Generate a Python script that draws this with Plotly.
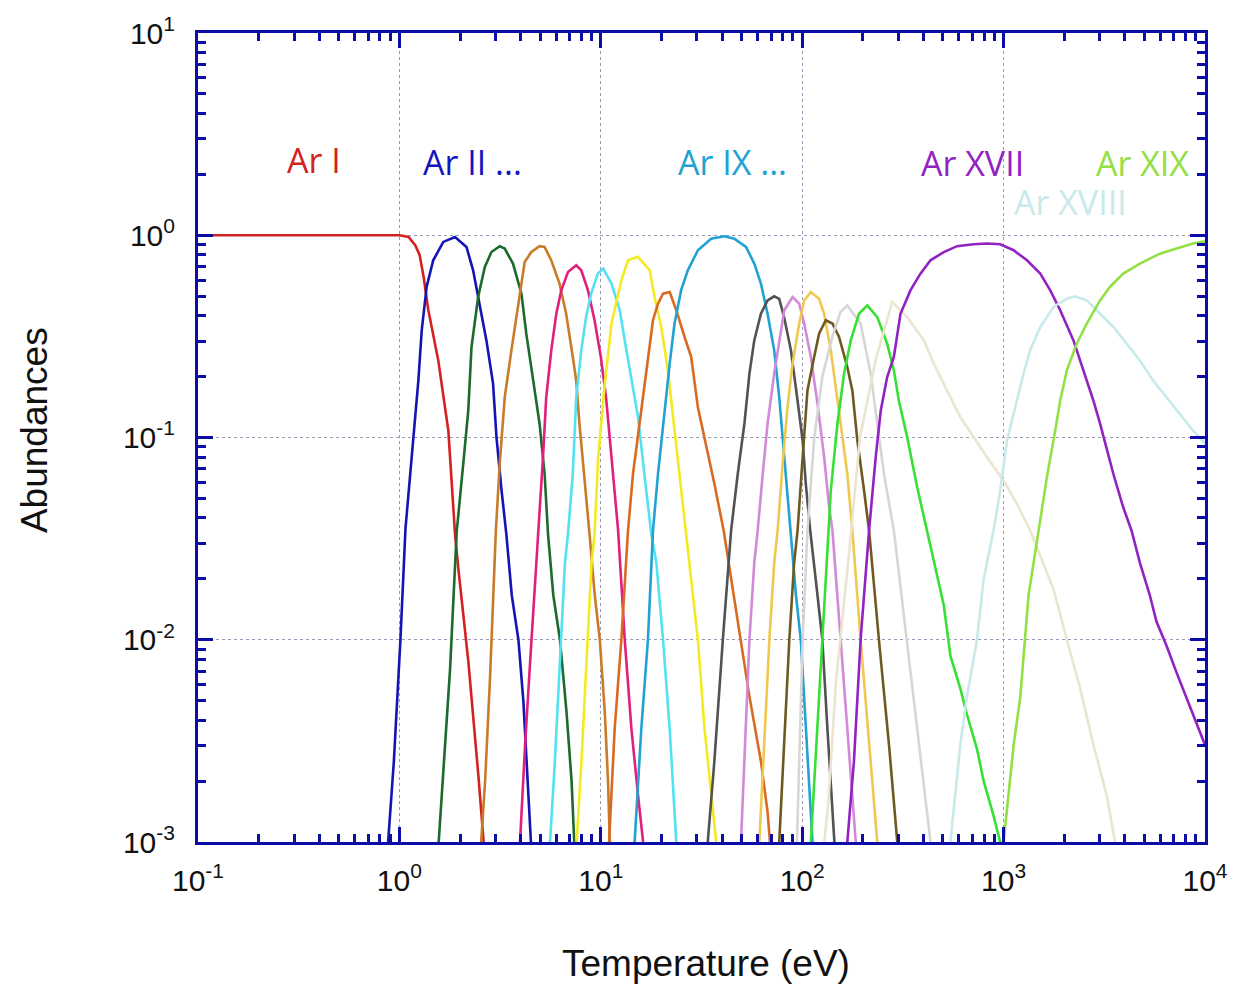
import plotly.graph_objects as go

# ---------------- data (temperature in eV, fractional abundance) ----------------
ions = ["Ar I", "Ar II", "Ar III", "Ar IV", "Ar V", "Ar VI", "Ar VII", "Ar VIII", "Ar IX", "Ar X",
        "Ar XI", "Ar XII", "Ar XIII", "Ar XIV", "Ar XV", "Ar XVI", "Ar XVII", "Ar XVIII", "Ar XIX"]

t01 = [0.1, 1.0, 1.11, 1.2, 1.26, 1.32, 1.39, 1.56, 1.75, 1.89, 1.97, 2.2, 2.47, 2.62]
a01 = [1.0, 1.0, 0.98, 0.89, 0.80, 0.62, 0.43, 0.24, 0.108, 0.033, 0.0216, 0.0078, 0.0021, 0.001]

t02 = [0.879, 0.938, 1.012, 1.072, 1.151, 1.242, 1.291, 1.365, 1.472, 1.652, 1.888, 2.153, 2.323, 2.506,
       2.704, 2.917, 3.034, 3.214, 3.396, 3.614, 3.899, 4.130, 4.285, 4.498]
a02 = [0.001, 0.00248, 0.01, 0.0355, 0.080, 0.191, 0.339, 0.555, 0.752, 0.927, 0.98, 0.875, 0.671, 0.459,
       0.302, 0.185, 0.1005, 0.055, 0.0333, 0.0166, 0.01, 0.0049, 0.00251, 0.001]

t03 = [1.567, 1.690, 1.786, 1.892, 1.928, 2.075, 2.198, 2.280, 2.460, 2.655, 2.864, 3.148, 3.334, 3.664,
       4.036, 4.266, 4.603, 4.966, 5.26, 5.47, 5.81, 6.27, 6.76, 7.16, 7.38]
a03 = [0.001, 0.00302, 0.00724, 0.024, 0.0347, 0.0741, 0.136, 0.280, 0.495, 0.697, 0.826, 0.883, 0.859, 0.724,
       0.514, 0.326, 0.199, 0.117, 0.066, 0.0333, 0.0166, 0.01, 0.00437, 0.002, 0.001]

t04 = [2.547, 2.667, 2.818, 2.931, 3.013, 3.148, 3.334, 3.597, 3.882, 4.188, 4.519, 4.966, 5.26, 5.675,
       6.237, 6.730, 7.261, 7.551, 7.834, 8.299, 8.790, 9.333, 9.886, 10.47, 10.86, 11.09]
a04 = [0.001, 0.00204, 0.00646, 0.0166, 0.0347, 0.0741, 0.158, 0.269, 0.442, 0.738, 0.826, 0.883, 0.875, 0.752,
       0.577, 0.409, 0.25, 0.191, 0.117, 0.0637, 0.0333, 0.0166, 0.01, 0.00437, 0.002, 0.001]

t05 = [3.972, 4.207, 4.457, 4.71, 4.898, 5.164, 5.358, 5.675, 6.012, 6.368, 6.871, 7.551, 7.998, 8.630,
       9.311, 10.0, 10.62, 11.30, 12.19, 13.15, 14.19, 15.31, 16.22]
a05 = [0.001, 0.00302, 0.00776, 0.02, 0.0347, 0.080, 0.158, 0.269, 0.409, 0.535, 0.658, 0.71, 0.671, 0.535,
       0.38, 0.251, 0.158, 0.080, 0.0347, 0.01, 0.00363, 0.0017, 0.001]

t06 = [5.598, 5.916, 6.266, 6.637, 6.871, 7.261, 7.551, 7.998, 8.453, 8.954, 9.661, 10.28, 11.30, 12.42,
       13.15, 14.19, 15.31, 16.52, 17.82, 18.88, 20.37, 21.98, 23.71]
a06 = [0.001, 0.00251, 0.00776, 0.024, 0.0333, 0.066, 0.158, 0.269, 0.394, 0.514, 0.646, 0.684, 0.577, 0.426,
       0.302, 0.199, 0.126, 0.0637, 0.0333, 0.024, 0.01, 0.00363, 0.001]

t07 = [7.586, 8.017, 8.492, 8.995, 9.311, 9.705, 10.47, 11.30, 12.65, 13.65, 15.31, 17.50, 18.49, 19.95,
       21.53, 23.23, 25.06, 26.55, 28.64, 30.34, 32.73, 35.32, 37.41]
a07 = [0.001, 0.00251, 0.00776, 0.024, 0.0333, 0.080, 0.185, 0.366, 0.598, 0.752, 0.782, 0.671, 0.495, 0.352,
       0.215, 0.108, 0.0547, 0.0333, 0.0166, 0.01, 0.00363, 0.0017, 0.001]

t08 = [10.99, 11.72, 12.65, 13.65, 14.45, 15.60, 16.83, 18.16, 19.23, 20.37, 21.98, 23.71, 26.06, 28.12,
       30.34, 32.73, 36.64, 40.74, 44.36, 49.66, 54.70, 62.37, 67.30, 69.18]
a08 = [0.001, 0.00363, 0.01, 0.0347, 0.066, 0.117, 0.207, 0.38, 0.459, 0.514, 0.524, 0.426, 0.314, 0.25,
       0.141, 0.1005, 0.059, 0.0347, 0.02, 0.01, 0.00525, 0.00251, 0.00141, 0.001]

t09 = [14.72, 15.89, 17.14, 18.16, 19.23, 20.75, 21.98, 23.23, 25.06, 27.04, 30.34, 35.32, 41.11, 46.03,
       52.60, 57.81, 62.37, 67.30, 72.61, 76.91, 81.47, 87.90, 93.11, 98.40, 104.2, 110.4, 112.5]
a09 = [0.001, 0.00363, 0.01, 0.0347, 0.066, 0.141, 0.232, 0.366, 0.535, 0.671, 0.843, 0.962, 0.989, 0.962,
       0.875, 0.724, 0.577, 0.409, 0.27, 0.158, 0.080, 0.0347, 0.0166, 0.01, 0.00363, 0.00141, 0.001]

t10 = [33.96, 36.64, 40.36, 44.36, 47.86, 51.64, 54.70, 57.81, 62.37, 67.30, 72.61, 76.91, 81.28, 87.90,
       94.84, 100.5, 104.2, 109.6, 119.1, 125.9, 133.4, 141.3, 144.5]
a10 = [0.001, 0.00251, 0.01, 0.0347, 0.066, 0.117, 0.207, 0.302, 0.409, 0.476, 0.499, 0.485, 0.394, 0.27,
       0.152, 0.0966, 0.059, 0.0347, 0.0166, 0.01, 0.00363, 0.00141, 0.001]

t11 = [49.66, 52.60, 54.70, 57.81, 60.12, 63.68, 67.30, 72.61, 76.91, 81.47, 89.54, 96.61, 102.3, 110.4,
       119.1, 128.5, 136.1, 141.3, 155.2, 167.9, 184.5]
a11 = [0.001, 0.00363, 0.01, 0.024, 0.0347, 0.066, 0.117, 0.207, 0.302, 0.426, 0.495, 0.459, 0.366, 0.25,
       0.147, 0.080, 0.0452, 0.0347, 0.01, 0.00363, 0.001]

t12 = [61.24, 64.86, 68.71, 72.61, 75.51, 79.98, 84.53, 89.54, 96.61, 102.3, 110.4, 121.3, 128.5, 138.7,
       149.6, 155.2, 167.5, 177.4, 195.0, 214.8, 236.0]
a12 = [0.001, 0.00302, 0.01, 0.024, 0.0347, 0.0741, 0.141, 0.232, 0.366, 0.476, 0.524, 0.485, 0.409, 0.269,
       0.158, 0.117, 0.066, 0.0347, 0.01, 0.00302, 0.001]

t13 = [76.91, 81.47, 86.30, 91.20, 94.84, 100.5, 106.2, 114.6, 121.3, 130.9, 141.3, 152.4, 167.5, 177.4,
       187.9, 202.8, 214.8, 240.4, 269.8, 296.5]
a13 = [0.001, 0.00302, 0.01, 0.024, 0.0347, 0.080, 0.171, 0.25, 0.326, 0.38, 0.366, 0.314, 0.223, 0.171,
       0.0966, 0.0547, 0.0347, 0.01, 0.00302, 0.001]

t14 = [94.19, 100.5, 106.2, 114.8, 125.9, 141.3, 154.9, 167.5, 195.0, 218.8, 236.0, 254.7, 285.1, 331.9,
       372.4, 433.5]
a14 = [0.001, 0.01, 0.0347, 0.1, 0.2, 0.316, 0.417, 0.45, 0.366, 0.207, 0.117, 0.066, 0.0347, 0.01,
       0.00363, 0.001]

t15 = [110.4, 119.1, 125.9, 136.1, 138.7, 149.6, 161.4, 174.2, 191.4, 210.4, 236.0, 264.2, 285.1, 302.0,
       331.9, 372.4, 416.9, 449.8, 504.7, 544.5, 609.5, 657.7, 737.9, 796.2, 891.3, 961.6]
a15 = [0.001, 0.00363, 0.01, 0.0347, 0.0547, 0.117, 0.207, 0.302, 0.409, 0.45, 0.394, 0.291, 0.215, 0.152,
       0.1005, 0.0568, 0.0347, 0.024, 0.0148, 0.00832, 0.00575, 0.00427, 0.00288, 0.002, 0.00135, 0.001]

t16 = [128.8, 134.9, 147.2, 169.8, 193.6, 232.3, 279.9, 331.9, 401.8, 449.8, 523.6, 609.5, 709.6, 826.0,
       1000, 1164, 1355, 1770, 2061, 2399, 2793, 3251, 3573]
a16 = [0.001, 0.00158, 0.0063, 0.0251, 0.1, 0.245, 0.468, 0.394, 0.302, 0.232, 0.171, 0.126, 0.1005, 0.080,
       0.0612, 0.047, 0.0347, 0.0178, 0.01, 0.00575, 0.00302, 0.0017, 0.001]

t17 = [167.5, 180.7, 195.0, 214.8, 231.7, 245.5, 264.2, 285.1, 307.6, 345.1, 386.4, 433.5, 504.7, 587.5,
       709.6, 826.0, 961.6, 1122, 1306, 1521, 1702, 1910, 2223, 2489, 2793, 3013, 3508, 3926, 4315, 4753,
       5321, 5741, 6442, 7211, 8091, 9057, 10000]
a17 = [0.001, 0.00251, 0.01, 0.0347, 0.080, 0.136, 0.199, 0.25, 0.409, 0.535, 0.646, 0.752, 0.826, 0.883,
       0.902, 0.91, 0.902, 0.843, 0.752, 0.646, 0.535, 0.426, 0.302, 0.215, 0.152, 0.117, 0.066, 0.0452, 0.0347,
       0.024, 0.0166, 0.0123, 0.00933, 0.00692, 0.00513, 0.00389, 0.00302]

t18 = [544.5, 609.5, 657.7, 737.9, 796.2, 891.3, 961.6, 1040, 1164, 1256, 1355, 1521, 1770, 2061, 2265,
       2588, 3013, 3508, 4083, 4753, 5534, 6442, 7499, 8730, 10000]
a18 = [0.001, 0.00302, 0.00525, 0.01, 0.02, 0.0347, 0.0547, 0.0966, 0.152, 0.207, 0.27, 0.352, 0.442, 0.485,
       0.499, 0.476, 0.409, 0.352, 0.291, 0.24, 0.191, 0.158, 0.131, 0.108, 0.0931]

t19 = [1000, 1059, 1122, 1211, 1279, 1330, 1409, 1489, 1641, 1803, 1910, 2061, 2307, 2588, 3013, 3373,
       3926, 4753, 5970, 7211, 8730, 10000]
a19 = [0.001, 0.0017, 0.00302, 0.00525, 0.01, 0.0166, 0.024, 0.0347, 0.0637, 0.108, 0.152, 0.215, 0.291,
       0.366, 0.476, 0.555, 0.646, 0.724, 0.811, 0.859, 0.91, 0.933]

x_tick_vals = [0.1, 1, 10, 100, 1000, 10000]
x_tick_text = ["10<sup>-1</sup>", "10<sup>0</sup>", "10<sup>1</sup>", "10<sup>2</sup>", "10<sup>3</sup>", "10<sup>4</sup>"]
y_tick_vals = [0.001, 0.01, 0.1, 1, 10]
y_tick_text = ["10<sup>-3</sup>", "10<sup>-2</sup>", "10<sup>-1</sup>", "10<sup>0</sup>", "10<sup>1</sup>"]

label_texts = ["Ar I", "Ar II ...", "Ar IX ...", "Ar XVII", "Ar XIX", "Ar XVIII"]

# ---------------- styling ----------------
colors = ["#d42020", "#1414b4", "#1c6b2c", "#c87c2a", "#e0207c", "#52e2f2", "#f4ea22", "#d86a22",
          "#22a2d2", "#525252", "#d28ad8", "#f0c850", "#6e5a20", "#d6d6d6", "#36e034", "#ebe5d0",
          "#9222c2", "#c8eaea", "#92e044"]
label_colors = ["#d42020", "#1414c0", "#22a2d2", "#9222c2", "#92e044", "#c8eaea"]
label_pos = [(0.1156, 0.843), (0.2727, 0.8405), (0.5306, 0.8405), (0.7688, 0.839), (0.9378, 0.839),
             (0.8666, 0.791)]

ts = [t01, t02, t03, t04, t05, t06, t07, t08, t09, t10, t11, t12, t13, t14, t15, t16, t17, t18, t19]
as_ = [a01, a02, a03, a04, a05, a06, a07, a08, a09, a10, a11, a12, a13, a14, a15, a16, a17, a18, a19]

AXC = "#0c0ca6"
GRIDC = "#9a9ab4"

fig = go.Figure()
for name, t, a, c in zip(ions, ts, as_, colors):
    fig.add_trace(go.Scatter(x=t, y=a, mode="lines", name=name,
                             line=dict(color=c, width=2.6),
                             showlegend=False))

for txt, col, (px, py) in zip(label_texts, label_colors, label_pos):
    fig.add_annotation(x=px, y=py, xref="paper", yref="paper", text=txt, showarrow=False,
                       font=dict(family="Open Sans, Noto Sans, sans-serif", size=34, color=col),
                       xanchor="center", yanchor="middle")

# axis titles
fig.add_annotation(x=0.504, y=-0.1496, xref="paper", yref="paper", text="Temperature (eV)",
                   showarrow=False, font=dict(family="Liberation Sans, Arial, sans-serif", size=37, color="#111111"),
                   xanchor="center", yanchor="middle")
fig.add_annotation(x=-0.163, y=0.509, xref="paper", yref="paper", text="Abundances", textangle=-90,
                   showarrow=False, font=dict(family="Liberation Sans, Arial, sans-serif", size=37, color="#111111"),
                   xanchor="center", yanchor="middle")

axis_common = dict(
    type="log", showline=True, linecolor=AXC, linewidth=3, mirror="ticks",
    ticks="inside", ticklen=15, tickwidth=2.5, tickcolor=AXC,
    showgrid=True, gridcolor=GRIDC, griddash="dot", gridwidth=1, zeroline=False,
    tickmode="array",
    minor=dict(ticks="inside", ticklen=8, tickwidth=2.5, tickcolor=AXC, dtick="D1", showgrid=False),
    tickfont=dict(family="Liberation Sans, Arial, sans-serif", size=30, color="#111111"),
)

fig.update_xaxes(**axis_common, range=[-1, 4], tickvals=x_tick_vals, ticktext=x_tick_text,
                 ticklabelstandoff=10)
fig.update_yaxes(**axis_common, range=[-3, 1], tickvals=y_tick_vals, ticktext=y_tick_text,
                 ticklabelstandoff=14)

fig.update_layout(
    width=1240, height=986, autosize=False,
    margin=dict(l=198, r=28, t=33, b=144),
    paper_bgcolor="white", plot_bgcolor="white",
)

fig.write_html("out.html")
